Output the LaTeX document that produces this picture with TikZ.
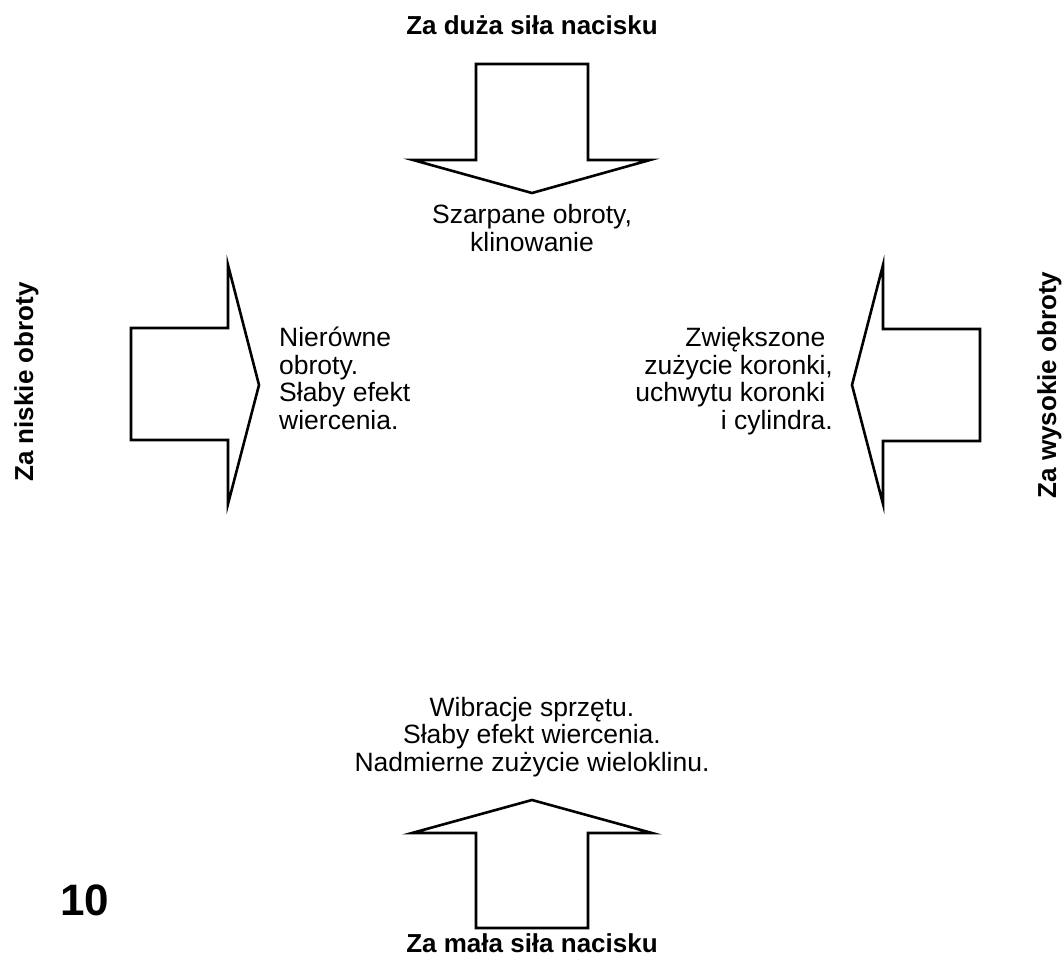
\documentclass[tikz,border=0pt]{standalone}
\usepackage{fontspec}
\setmainfont{Liberation Sans}
\tikzset{
    arrowshape/.style = {draw, line width = 2.6pt},
    heading/.style = {font = \fontsize{26}{27.5}\selectfont\bfseries},
    note/.style = {font = \fontsize{26.5}{27.5}\selectfont, inner sep = 0pt}
}
\begin{document}
\begin{tikzpicture}[x = 1pt, y = -1pt]
    \useasboundingbox (0, 0) rectangle (1063, 958);
    % arrows
    \draw[arrowshape] (476, 64) -- (588, 64) -- (588, 160) -- (650, 160) -- (532, 193) -- (413, 160) -- (476, 160) -- cycle;
    \draw[arrowshape] (476, 928) -- (588, 928) -- (588, 833) -- (652, 833) -- (532, 800) -- (412, 833) -- (476, 833) -- cycle;
    \draw[arrowshape] (131, 328) -- (228, 328) -- (228, 265) -- (259, 385) -- (228, 504) -- (228, 440) -- (131, 440) -- cycle;
    \draw[arrowshape] (980, 329) -- (883, 329) -- (883, 265) -- (852, 385) -- (883, 504) -- (883, 441) -- (980, 441) -- cycle;
    % headings
    \node[heading, anchor = base] (headTop) at (532, 35) {Za duża siła nacisku};
    \node[heading, anchor = base] (headBottom) at (532, 952) {Za mała siła nacisku};
    \node[heading, anchor = base, rotate = 90] (headLeft) at (33, 382) {Za niskie obroty};
    \node[heading, anchor = base, rotate = 90] (headRight) at (1056, 385) {Za wysokie obroty};
    % notes (base = last line)
    \node[note, anchor = base, align = center] (noteTop) at (532, 251) {Szarpane obroty,\\klinowanie};
    \node[note, anchor = base west, align = left] (noteLeft) at (279, 429) {Nierówne\\obroty.\\Słaby efekt\\wiercenia.};
    \node[note, anchor = base east, align = right] (noteRight) at (833, 429) {Zwiększone\kern.28em\\zużycie koronki,\\uchwytu koronki\kern.28em\\i cylindra.};
    \node[note, anchor = base, align = center] (noteBottom) at (532, 771) {Wibracje sprzętu.\\Słaby efekt wiercenia.\\Nadmierne zużycie wieloklinu.};
    \node[font = \fontsize{44}{44}\selectfont\bfseries, anchor = base west, inner sep = 0pt] (pageNo) at (60, 915) {10};
\end{tikzpicture}
\end{document}
